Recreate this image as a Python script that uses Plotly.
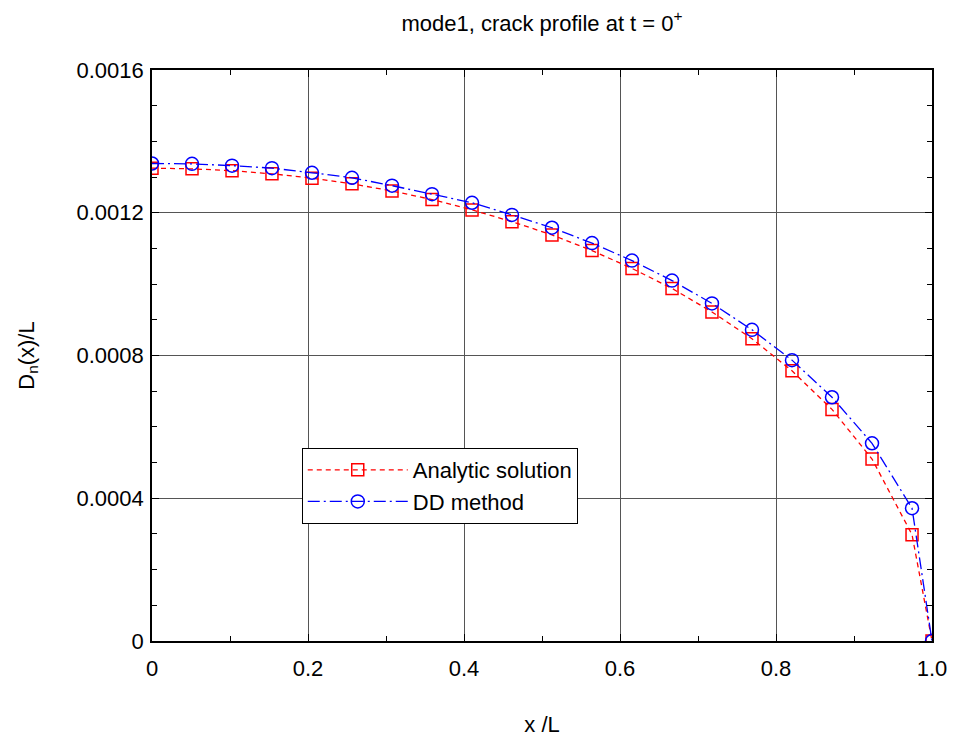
import plotly.graph_objects as go

# Normalised position along the crack
x_over_L = [0.0, 0.0513, 0.1026, 0.1538, 0.2051, 0.2564, 0.3077, 0.3590, 0.4103,
            0.4615, 0.5128, 0.5641, 0.6154, 0.6667, 0.7179, 0.7692, 0.8205,
            0.8718, 0.9231, 0.9744, 1.0]

# Normal displacement discontinuity D_n(x)/L
analytic = [0.001325, 0.001323, 0.001318, 0.001309, 0.001297, 0.001281, 0.001261,
            0.001237, 0.001208, 0.001175, 0.001138, 0.001094, 0.001044, 0.000988,
            0.000922, 0.000847, 0.000757, 0.000649, 0.000510, 0.000298, 0.0]
dd_method = [0.001338, 0.001337, 0.001332, 0.001325, 0.001312, 0.001298, 0.001276,
             0.001252, 0.001228, 0.001194, 0.001158, 0.001115, 0.001066, 0.001010,
             0.000946, 0.000872, 0.000787, 0.000683, 0.000554, 0.000372, 0.0]

x_tickvals = [0, 0.2, 0.4, 0.6, 0.8, 1.0]
x_ticktext = ["0", "0.2", "0.4", "0.6", "0.8", "1.0"]
y_tickvals = [0, 0.0004, 0.0008, 0.0012, 0.0016]
y_ticktext = ["0", "0.0004", "0.0008", "0.0012", "0.0016"]

FONT = "Liberation Sans, Arial, Helvetica, sans-serif"
FS = 22

fig = go.Figure()
fig.add_trace(go.Scatter(
    x=x_over_L, y=analytic, mode="lines+markers", name="Analytic solution",
    line=dict(color="#ff0000", width=1.3, dash="5px,4px"),
    marker=dict(symbol="square-open", size=12, color="#ff0000", line=dict(width=1.5)),
))
fig.add_trace(go.Scatter(
    x=x_over_L, y=dd_method, mode="lines+markers", name="DD method",
    line=dict(color="#0000ff", width=1.3, dash="12px,4px,2px,4px"),
    marker=dict(symbol="circle-open", size=13, color="#0000ff", line=dict(width=1.5)),
))

axis_common = dict(
    showline=True, linecolor="black", linewidth=1.8, mirror="ticks",
    ticks="inside", ticklen=7, tickwidth=1, tickcolor="black",
    showgrid=True, gridcolor="#555555", gridwidth=1,
    zeroline=False, automargin=False,
    tickfont=dict(family=FONT, size=FS, color="black"),
)

fig.update_xaxes(
    **axis_common, range=[0, 1], tickvals=x_tickvals, ticktext=x_ticktext,
    minor=dict(dtick=0.1, tick0=0, ticks="inside", ticklen=5, tickcolor="black", showgrid=False),
    ticklabelstandoff=7,
    title=dict(text="x /L", font=dict(family=FONT, size=FS, color="black"), standoff=36),
)
fig.update_yaxes(
    **axis_common, range=[0, 0.0016], tickvals=y_tickvals, ticktext=y_ticktext,
    minor=dict(dtick=0.0001, tick0=0, ticks="inside", ticklen=5, tickcolor="black", showgrid=False),
    ticklabelstandoff=2,
    title=dict(text="D<sub>n</sub>(x)/L", font=dict(family=FONT, size=FS, color="black"), standoff=36),
)

fig.update_layout(
    width=956, height=741,
    margin=dict(l=152, r=24, t=70, b=100),
    paper_bgcolor="white", plot_bgcolor="white",
    font=dict(family=FONT, color="black"),
    title=dict(text="mode1, crack profile at t = 0<sup>+</sup>", x=0.5, xref="paper",
               y=0.969, yanchor="middle", font=dict(family=FONT, size=FS, color="black")),
    legend=dict(x=0.192, y=0.338, xanchor="left", yanchor="top",
                bgcolor="white", bordercolor="black", borderwidth=1,
                font=dict(family=FONT, size=FS, color="black"),
                itemwidth=100, tracegroupgap=0),
)

fig.write_html("out.html")
